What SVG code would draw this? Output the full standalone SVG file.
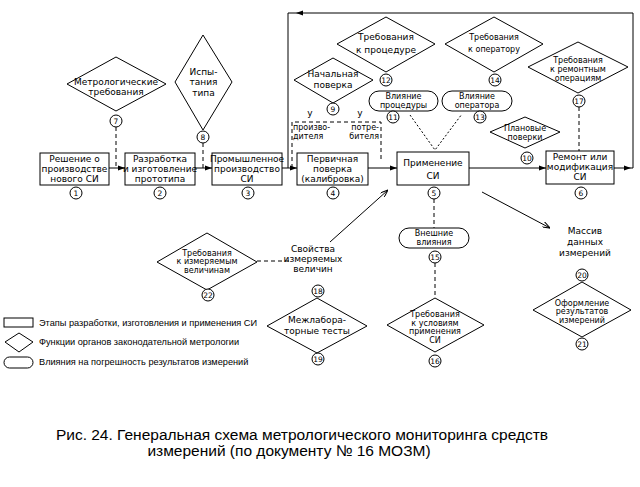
<svg xmlns="http://www.w3.org/2000/svg" width="640" height="487" viewBox="0 0 640 487">
<style>
text{font-family:"DejaVu Sans","Liberation Sans",Arial,sans-serif;fill:#000;dominant-baseline:central}
.t{font-size:9px;text-anchor:middle}
.s{font-size:8px;text-anchor:middle}
.n{font-size:7.5px;text-anchor:middle}
.l{font-family:"Liberation Sans",Arial,sans-serif;font-size:9.2px;text-anchor:start}
.cap{font-family:"Liberation Sans",Arial,sans-serif;font-size:15.5px;text-anchor:middle}
.shape{fill:#fff;stroke:#000;stroke-width:1}
.ln{fill:none;stroke:#000;stroke-width:1}
.dash{fill:none;stroke:#000;stroke-width:1;stroke-dasharray:4 3}
.dot{fill:none;stroke:#000;stroke-width:1;stroke-dasharray:2 2}
</style>
<defs>
<marker id="ah" markerWidth="7" markerHeight="6" refX="7" refY="3" orient="auto" markerUnits="userSpaceOnUse">
<path d="M0,0.5 L7,3 L0,5.5 Z" fill="#000"/>
</marker>
<marker id="ao" markerWidth="8" markerHeight="6" refX="8" refY="3" orient="auto" markerUnits="userSpaceOnUse">
<path d="M0,0 L8,3 L0,6" fill="none" stroke="#000"/>
</marker>
</defs>
<rect width="640" height="487" fill="#fff"/>

<g id="connectors">
<path class="ln" d="M109,168 H125" marker-end="url(#ah)"/>
<path class="ln" d="M195,168 H212" marker-end="url(#ah)"/>
<path class="ln" d="M282,168 H297" marker-end="url(#ah)"/>
<path class="ln" d="M368,168 H397" marker-end="url(#ah)"/>
<path class="ln" d="M469,168 H546" marker-end="url(#ah)"/>
<path class="ln" d="M614,168 H631" marker-end="url(#ah)"/>
<path class="ln" d="M631,168 H633 V13 H296" marker-end="url(#ah)"/>
<path class="ln" d="M296,13 H288 V168"/>
<path class="dash" d="M116,127 V168"/>
<path class="dash" d="M203,143 V168"/>
<path class="dash" d="M292,168 V122 H381 V162"/>
<path class="dot" d="M410,115 L435,150 L462,114"/>
<path class="dash" d="M579,107 V151"/>
<path class="dash" d="M434,199 V228"/>
<path class="dash" d="M435,263 V298"/>
<path class="dash" d="M257,261 H290"/>
<path class="ln" d="M330,242 L388,190" marker-end="url(#ao)"/>
<path class="ln" d="M482,192 L550,228" marker-end="url(#ao)"/>
</g>

<g id="n1"><rect class="shape" x="40" y="153" width="69" height="32"/>
<text class="t" x="74.5" y="158.5">Решение о</text><text class="t" x="74.5" y="168.5">производстве</text><text class="t" x="74.5" y="178.5">нового  СИ</text>
<circle class="shape" cx="76" cy="193" r="6"/><text class="n" x="76" y="193.5">1</text></g>

<g id="n2"><rect class="shape" x="125" y="153" width="70" height="32"/>
<text class="t" x="160" y="158.5">Разработка</text><text class="t" x="160" y="168.5">и изготовление</text><text class="t" x="160" y="178.5">прототипа</text>
<circle class="shape" cx="160" cy="193" r="6"/><text class="n" x="160" y="193.5">2</text></g>

<g id="n3"><rect class="shape" x="212" y="153" width="70" height="32"/>
<text class="t" x="247" y="158.5">Промышленное</text><text class="t" x="247" y="168.5">производство</text><text class="t" x="247" y="178.5">СИ</text>
<circle class="shape" cx="248" cy="193" r="6"/><text class="n" x="248" y="193.5">3</text></g>

<g id="n4"><rect class="shape" x="297" y="153" width="71" height="32"/>
<text class="t" x="332.5" y="158.5">Первичная</text><text class="t" x="332.5" y="168.5">поверка</text><text class="t" x="332.5" y="178.5">(калибровка)</text>
<circle class="shape" cx="333" cy="193" r="6"/><text class="n" x="333" y="193.5">4</text></g>

<g id="n5"><rect class="shape" x="397" y="152" width="72" height="33"/>
<text class="t" x="433" y="163">Применение</text><text class="t" x="433" y="176">СИ</text>
<circle class="shape" cx="434" cy="193" r="6"/><text class="n" x="434" y="193.5">5</text></g>

<g id="n6"><rect class="shape" x="546" y="151" width="68" height="33"/>
<text class="t" x="580" y="157">Ремонт  или</text><text class="t" x="580" y="167">модификация</text><text class="t" x="580" y="177">СИ</text>
<circle class="shape" cx="581" cy="193" r="6"/><text class="n" x="581" y="193.5">6</text></g>

<g id="n7"><polygon class="shape" points="67,84 116,57 166,84 116,111"/>
<text class="t" x="116" y="82">Метрологические</text><text class="t" x="116" y="92">требования</text>
<circle class="shape" cx="116" cy="121" r="6"/><text class="n" x="116" y="121.5">7</text></g>

<g id="n8"><polygon class="shape" points="175,82 203,35 232,82 203,130"/>
<text class="t" x="203.5" y="72">Испы-</text><text class="t" x="203.5" y="82">тания</text><text class="t" x="203.5" y="93">типа</text>
<circle class="shape" cx="203" cy="137" r="6"/><text class="n" x="203" y="137.5">8</text></g>

<g id="n9"><polygon class="shape" points="294,80 333,58 373,80 333,103"/>
<text class="t" x="333" y="74">Начальная</text><text class="t" x="333" y="85">поверка</text>
<circle class="shape" cx="333" cy="109" r="6"/><text class="n" x="333" y="109.5">9</text>
<text class="t" x="310" y="113">у</text><text class="t" x="360" y="113">у</text>
<text class="s" x="293" y="127" style="text-anchor:start">произво-</text><text class="s" x="293" y="136" style="text-anchor:start">дителя</text>
<text class="s" x="379" y="127" style="text-anchor:end">потре-</text><text class="s" x="379" y="136" style="text-anchor:end">бителя</text></g>

<g id="n10"><polygon class="shape" points="490,132 525,117 560,132 525,148"/>
<text class="s" x="525" y="128">Плановые</text><text class="s" x="525" y="137">поверки</text>
<circle class="shape" cx="527" cy="158" r="6"/><text class="n" x="527" y="158.5">10</text></g>

<g id="n11"><rect class="shape" x="369" y="91" width="69" height="20" rx="10"/>
<text class="s" x="403.5" y="96.5">Влияние</text><text class="s" x="403.5" y="105">процедуры</text>
<circle class="shape" cx="393" cy="117" r="6"/><text class="n" x="393" y="117.5">11</text></g>

<g id="n12"><polygon class="shape" points="337,44 386,17 435,44 386,72"/>
<text class="t" x="386" y="37">Требования</text><text class="t" x="386" y="50">к процедуре</text>
<circle class="shape" cx="386" cy="80" r="6"/><text class="n" x="386" y="80.5">12</text></g>

<g id="n13"><rect class="shape" x="442" y="91" width="70" height="20" rx="10"/>
<text class="s" x="477" y="96.5">Влияние</text><text class="s" x="477" y="105">оператора</text>
<circle class="shape" cx="480" cy="117" r="6"/><text class="n" x="480" y="117.5">13</text></g>

<g id="n14"><polygon class="shape" points="445,44 494,17 543,44 494,72"/>
<text class="s" x="494" y="37">Требования</text><text class="s" x="494" y="49">к оператору</text>
<circle class="shape" cx="495" cy="80" r="6"/><text class="n" x="495" y="80.5">14</text></g>

<g id="n15"><rect class="shape" x="399" y="228" width="70" height="20" rx="10"/>
<text class="s" x="434" y="233.5">Внешние</text><text class="s" x="434" y="242">влияния</text>
<circle class="shape" cx="435" cy="257" r="6"/><text class="n" x="435" y="257.5">15</text></g>

<g id="n16"><polygon class="shape" points="387,325 435,298 484,325 435,352"/>
<text class="s" x="435" y="314.5">Требования</text><text class="s" x="435" y="323">к  условиям</text><text class="s" x="435" y="331.5">применения</text><text class="s" x="435" y="340">СИ</text>
<circle class="shape" cx="435" cy="361" r="6"/><text class="n" x="435" y="361.5">16</text></g>

<g id="n17"><polygon class="shape" points="528,67 578,42 628,67 578,93"/>
<text class="s" x="578" y="60">Требования</text><text class="s" x="578" y="69">к  ремонтным</text><text class="s" x="578" y="78">операциям</text>
<circle class="shape" cx="579" cy="101" r="6"/><text class="n" x="579" y="101.5">17</text></g>

<g id="n18"><text class="t" x="313" y="249">Свойства</text><text class="t" x="313" y="259">измеряемых</text><text class="t" x="313" y="269">величин</text>
<circle class="shape" cx="318" cy="291" r="6"/><text class="n" x="318" y="291.5">18</text></g>

<g id="n19"><polygon class="shape" points="267,326 317,298 367,326 317,353"/>
<text class="t" x="317" y="320">Межлабора-</text><text class="t" x="317" y="331">торные  тесты</text>
<circle class="shape" cx="318" cy="359" r="6"/><text class="n" x="318" y="359.5">19</text></g>

<g id="n20"><text class="t" x="585" y="231">Массив</text><text class="t" x="585" y="242">данных</text><text class="t" x="585" y="253">измерений</text>
<circle class="shape" cx="582" cy="275" r="6"/><text class="n" x="582" y="275.5">20</text></g>

<g id="n21"><polygon class="shape" points="533,310 582,282 631,310 582,337"/>
<text class="s" x="582" y="303">Оформление</text><text class="s" x="582" y="311.5">результатов</text><text class="s" x="582" y="320">измерений</text>
<circle class="shape" cx="582" cy="344" r="6"/><text class="n" x="582" y="344.5">21</text></g>

<g id="n22"><polygon class="shape" points="157,262 207,233 257,262 207,290"/>
<text class="s" x="207" y="253">Требования</text><text class="s" x="207" y="261.5">к  измеряемым</text><text class="s" x="207" y="270">величинам</text>
<circle class="shape" cx="208" cy="295" r="6"/><text class="n" x="208" y="295.5">22</text></g>

<g id="legend">
<rect class="shape" x="4" y="318" width="29" height="9"/>
<text class="l" x="39" y="323">Этапы разработки, изготовления и применения СИ</text>
<polygon class="shape" points="5,342 19,333 33,342 19,352"/>
<text class="l" x="39" y="342">Функции органов законодательной метрологии</text>
<rect class="shape" x="4" y="357" width="29" height="11" rx="5.5"/>
<text class="l" x="39" y="362">Влияния на погрешность результатов измерений</text>
</g>

<g id="caption">
<text class="cap" x="302" y="434">Рис. 24. Генеральная схема метрологического мониторинга средств</text>
<text class="cap" x="289" y="450">измерений (по документу № 16 МОЗМ)</text>
</g>
</svg>
